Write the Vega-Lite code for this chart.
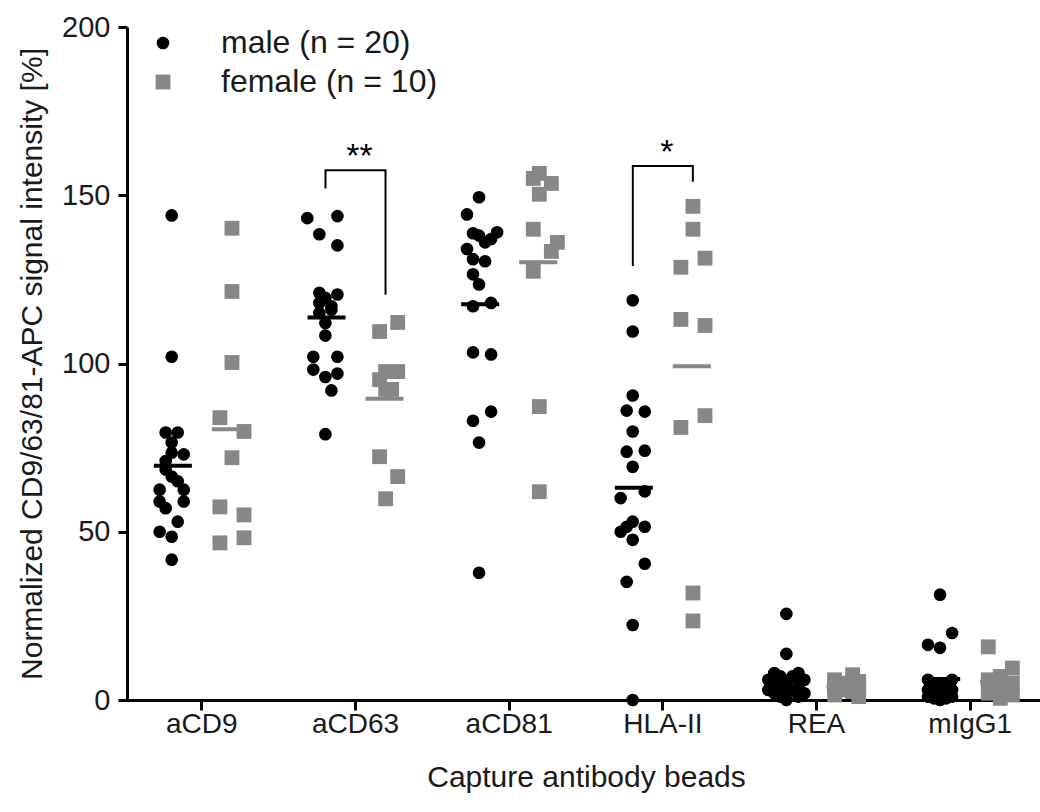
{
  "$schema": "https://vega.github.io/schema/vega-lite/v6.json",
  "width": 913,
  "height": 673,
  "autosize": "none",
  "padding": {"left": 127, "top": 27, "right": 0, "bottom": 112},
  "background": "white",
  "config": {
    "view": {"stroke": null},
    "font": "Liberation Sans",
    "axis": {
      "grid": false,
      "domainColor": "#000000",
      "domainWidth": 3,
      "tickColor": "#000000",
      "tickWidth": 3,
      "tickSize": 9,
      "labelFont": "Liberation Sans",
      "labelFontSize": 28,
      "labelColor": "#1a1a1a",
      "titleFont": "Liberation Sans",
      "titleFontSize": 30,
      "titleFontWeight": "normal",
      "titleColor": "#1a1a1a"
    },
    "legend": {
      "orient": "none",
      "legendX": 20,
      "legendY": 0,
      "padding": 0,
      "labelFont": "Liberation Sans",
      "labelFontSize": 32,
      "labelColor": "#1a1a1a",
      "labelOffset": 42,
      "labelLimit": 500,
      "rowPadding": 7
    }
  },
  "datasets": {
    "pts": [
      {"g":"aCD9","sex":"male","slot":"m0","v":144},
      {"g":"aCD9","sex":"male","slot":"m0","v":102},
      {"g":"aCD9","sex":"male","slot":"m-1","v":79.5},
      {"g":"aCD9","sex":"male","slot":"m1","v":79.5},
      {"g":"aCD9","sex":"male","slot":"m0","v":76.5},
      {"g":"aCD9","sex":"male","slot":"m0","v":73.5},
      {"g":"aCD9","sex":"male","slot":"m2","v":73},
      {"g":"aCD9","sex":"male","slot":"m-1","v":71},
      {"g":"aCD9","sex":"male","slot":"m-1","v":68.5},
      {"g":"aCD9","sex":"male","slot":"m0","v":66.4},
      {"g":"aCD9","sex":"male","slot":"m1","v":65},
      {"g":"aCD9","sex":"male","slot":"m-2","v":62.5},
      {"g":"aCD9","sex":"male","slot":"m2","v":62.5},
      {"g":"aCD9","sex":"male","slot":"m-2","v":59},
      {"g":"aCD9","sex":"male","slot":"m2","v":59},
      {"g":"aCD9","sex":"male","slot":"m-1","v":57},
      {"g":"aCD9","sex":"male","slot":"m1","v":53},
      {"g":"aCD9","sex":"male","slot":"m-2","v":50},
      {"g":"aCD9","sex":"male","slot":"m0","v":48.5},
      {"g":"aCD9","sex":"male","slot":"m0","v":41.7},
      {"g":"aCD9","sex":"female","slot":"f0","v":140.2},
      {"g":"aCD9","sex":"female","slot":"f0","v":121.4},
      {"g":"aCD9","sex":"female","slot":"f0","v":100.3},
      {"g":"aCD9","sex":"female","slot":"f-2","v":83.9},
      {"g":"aCD9","sex":"female","slot":"f2","v":79.8},
      {"g":"aCD9","sex":"female","slot":"f0","v":72},
      {"g":"aCD9","sex":"female","slot":"f-2","v":57.4},
      {"g":"aCD9","sex":"female","slot":"f2","v":55},
      {"g":"aCD9","sex":"female","slot":"f2","v":48.2},
      {"g":"aCD9","sex":"female","slot":"f-2","v":46.7},
      {"g":"aCD63","sex":"male","slot":"m-3","v":143.2},
      {"g":"aCD63","sex":"male","slot":"m2","v":143.8},
      {"g":"aCD63","sex":"male","slot":"m-1","v":138.4},
      {"g":"aCD63","sex":"male","slot":"m2","v":135.1},
      {"g":"aCD63","sex":"male","slot":"m-1","v":121},
      {"g":"aCD63","sex":"male","slot":"m2","v":120.5},
      {"g":"aCD63","sex":"male","slot":"m0","v":119.5},
      {"g":"aCD63","sex":"male","slot":"m-1","v":118},
      {"g":"aCD63","sex":"male","slot":"m1","v":117},
      {"g":"aCD63","sex":"male","slot":"m1","v":116},
      {"g":"aCD63","sex":"male","slot":"m-1","v":115},
      {"g":"aCD63","sex":"male","slot":"m0","v":112},
      {"g":"aCD63","sex":"male","slot":"m0","v":108.3},
      {"g":"aCD63","sex":"male","slot":"m-2","v":102},
      {"g":"aCD63","sex":"male","slot":"m2","v":102},
      {"g":"aCD63","sex":"male","slot":"m-2","v":98.2},
      {"g":"aCD63","sex":"male","slot":"m2","v":97},
      {"g":"aCD63","sex":"male","slot":"m0","v":96},
      {"g":"aCD63","sex":"male","slot":"m1","v":92},
      {"g":"aCD63","sex":"male","slot":"m0","v":79},
      {"g":"aCD63","sex":"female","slot":"f2","v":112.2},
      {"g":"aCD63","sex":"female","slot":"f-1","v":109.5},
      {"g":"aCD63","sex":"female","slot":"f0","v":97.6},
      {"g":"aCD63","sex":"female","slot":"f2","v":97.6},
      {"g":"aCD63","sex":"female","slot":"f-1","v":95.2},
      {"g":"aCD63","sex":"female","slot":"f0","v":92.3},
      {"g":"aCD63","sex":"female","slot":"f1","v":92.3},
      {"g":"aCD63","sex":"female","slot":"f-1","v":72.3},
      {"g":"aCD63","sex":"female","slot":"f2","v":66.4},
      {"g":"aCD63","sex":"female","slot":"f0","v":59.8},
      {"g":"aCD81","sex":"male","slot":"m0","v":149.4},
      {"g":"aCD81","sex":"male","slot":"m-2","v":144.3},
      {"g":"aCD81","sex":"male","slot":"m3","v":139},
      {"g":"aCD81","sex":"male","slot":"m-1","v":138.7},
      {"g":"aCD81","sex":"male","slot":"m0","v":138},
      {"g":"aCD81","sex":"male","slot":"m2","v":137},
      {"g":"aCD81","sex":"male","slot":"m1","v":136},
      {"g":"aCD81","sex":"male","slot":"m-2","v":134},
      {"g":"aCD81","sex":"male","slot":"m-1","v":131},
      {"g":"aCD81","sex":"male","slot":"m1","v":130.4},
      {"g":"aCD81","sex":"male","slot":"m-1","v":126.5},
      {"g":"aCD81","sex":"male","slot":"m0","v":123.5},
      {"g":"aCD81","sex":"male","slot":"m2","v":118},
      {"g":"aCD81","sex":"male","slot":"m-1","v":117},
      {"g":"aCD81","sex":"male","slot":"m-1","v":103.3},
      {"g":"aCD81","sex":"male","slot":"m2","v":102.7},
      {"g":"aCD81","sex":"male","slot":"m2","v":85.7},
      {"g":"aCD81","sex":"male","slot":"m-1","v":83},
      {"g":"aCD81","sex":"male","slot":"m0","v":76.5},
      {"g":"aCD81","sex":"male","slot":"m0","v":37.8},
      {"g":"aCD81","sex":"female","slot":"f0","v":156.5},
      {"g":"aCD81","sex":"female","slot":"f-1","v":155},
      {"g":"aCD81","sex":"female","slot":"f2","v":153.5},
      {"g":"aCD81","sex":"female","slot":"f0","v":150.3},
      {"g":"aCD81","sex":"female","slot":"f-1","v":139.9},
      {"g":"aCD81","sex":"female","slot":"f3","v":136},
      {"g":"aCD81","sex":"female","slot":"f2","v":133.3},
      {"g":"aCD81","sex":"female","slot":"f-1","v":127.4},
      {"g":"aCD81","sex":"female","slot":"f0","v":87.2},
      {"g":"aCD81","sex":"female","slot":"f0","v":61.9},
      {"g":"HLA-II","sex":"male","slot":"m0","v":118.8},
      {"g":"HLA-II","sex":"male","slot":"m0","v":109.5},
      {"g":"HLA-II","sex":"male","slot":"m0","v":90.5},
      {"g":"HLA-II","sex":"male","slot":"m-1","v":86},
      {"g":"HLA-II","sex":"male","slot":"m2","v":85.7},
      {"g":"HLA-II","sex":"male","slot":"m0","v":79.8},
      {"g":"HLA-II","sex":"male","slot":"m2","v":74.1},
      {"g":"HLA-II","sex":"male","slot":"m-1","v":73.8},
      {"g":"HLA-II","sex":"male","slot":"m0","v":69.3},
      {"g":"HLA-II","sex":"male","slot":"m2","v":62},
      {"g":"HLA-II","sex":"male","slot":"m-2","v":60},
      {"g":"HLA-II","sex":"male","slot":"m0","v":53},
      {"g":"HLA-II","sex":"male","slot":"m-1","v":51.5},
      {"g":"HLA-II","sex":"male","slot":"m2","v":51.5},
      {"g":"HLA-II","sex":"male","slot":"m-2","v":50},
      {"g":"HLA-II","sex":"male","slot":"m0","v":47.6},
      {"g":"HLA-II","sex":"male","slot":"m2","v":40.5},
      {"g":"HLA-II","sex":"male","slot":"m-1","v":35.1},
      {"g":"HLA-II","sex":"male","slot":"m0","v":22.3},
      {"g":"HLA-II","sex":"male","slot":"m0","v":0},
      {"g":"HLA-II","sex":"female","slot":"f0","v":146.7},
      {"g":"HLA-II","sex":"female","slot":"f0","v":139.9},
      {"g":"HLA-II","sex":"female","slot":"f2","v":131.3},
      {"g":"HLA-II","sex":"female","slot":"f-2","v":128.6},
      {"g":"HLA-II","sex":"female","slot":"f-2","v":113.1},
      {"g":"HLA-II","sex":"female","slot":"f2","v":111.3},
      {"g":"HLA-II","sex":"female","slot":"f2","v":84.5},
      {"g":"HLA-II","sex":"female","slot":"f-2","v":81},
      {"g":"HLA-II","sex":"female","slot":"f0","v":31.8},
      {"g":"HLA-II","sex":"female","slot":"f0","v":23.5},
      {"g":"REA","sex":"male","slot":"m0","v":25.6},
      {"g":"REA","sex":"male","slot":"m0","v":13.7},
      {"g":"REA","sex":"male","slot":"m-2","v":8},
      {"g":"REA","sex":"male","slot":"m2","v":8},
      {"g":"REA","sex":"male","slot":"m-1","v":7},
      {"g":"REA","sex":"male","slot":"m1","v":7},
      {"g":"REA","sex":"male","slot":"m-3","v":6},
      {"g":"REA","sex":"male","slot":"m3","v":6},
      {"g":"REA","sex":"male","slot":"m0","v":5},
      {"g":"REA","sex":"male","slot":"m-2","v":5},
      {"g":"REA","sex":"male","slot":"m2","v":4},
      {"g":"REA","sex":"male","slot":"m-1","v":4},
      {"g":"REA","sex":"male","slot":"m1","v":3},
      {"g":"REA","sex":"male","slot":"m-3","v":3},
      {"g":"REA","sex":"male","slot":"m3","v":2},
      {"g":"REA","sex":"male","slot":"m0","v":2},
      {"g":"REA","sex":"male","slot":"m-2","v":2},
      {"g":"REA","sex":"male","slot":"m2","v":1},
      {"g":"REA","sex":"male","slot":"m-1","v":1},
      {"g":"REA","sex":"male","slot":"m0","v":0},
      {"g":"REA","sex":"female","slot":"f1","v":7.5},
      {"g":"REA","sex":"female","slot":"f-2","v":6},
      {"g":"REA","sex":"female","slot":"f2","v":5.5},
      {"g":"REA","sex":"female","slot":"f0","v":5},
      {"g":"REA","sex":"female","slot":"f-2","v":4},
      {"g":"REA","sex":"female","slot":"f2","v":3.5},
      {"g":"REA","sex":"female","slot":"f-1","v":3},
      {"g":"REA","sex":"female","slot":"f1","v":2.5},
      {"g":"REA","sex":"female","slot":"f-2","v":1.5},
      {"g":"REA","sex":"female","slot":"f2","v":1},
      {"g":"mIgG1","sex":"male","slot":"m0","v":31.3},
      {"g":"mIgG1","sex":"male","slot":"m2","v":19.9},
      {"g":"mIgG1","sex":"male","slot":"m-2","v":16.4},
      {"g":"mIgG1","sex":"male","slot":"m0","v":15.5},
      {"g":"mIgG1","sex":"male","slot":"m-2","v":6},
      {"g":"mIgG1","sex":"male","slot":"m2","v":6},
      {"g":"mIgG1","sex":"male","slot":"m0","v":5},
      {"g":"mIgG1","sex":"male","slot":"m-1","v":4},
      {"g":"mIgG1","sex":"male","slot":"m1","v":4},
      {"g":"mIgG1","sex":"male","slot":"m-2","v":3},
      {"g":"mIgG1","sex":"male","slot":"m2","v":3},
      {"g":"mIgG1","sex":"male","slot":"m0","v":3},
      {"g":"mIgG1","sex":"male","slot":"m-1","v":2},
      {"g":"mIgG1","sex":"male","slot":"m1","v":2},
      {"g":"mIgG1","sex":"male","slot":"m-2","v":1},
      {"g":"mIgG1","sex":"male","slot":"m2","v":1},
      {"g":"mIgG1","sex":"male","slot":"m0","v":1},
      {"g":"mIgG1","sex":"male","slot":"m-1","v":0.5},
      {"g":"mIgG1","sex":"male","slot":"m1","v":0.5},
      {"g":"mIgG1","sex":"male","slot":"m0","v":0},
      {"g":"mIgG1","sex":"female","slot":"f-2","v":15.8},
      {"g":"mIgG1","sex":"female","slot":"f2","v":9.5},
      {"g":"mIgG1","sex":"female","slot":"f0","v":7},
      {"g":"mIgG1","sex":"female","slot":"f-2","v":6},
      {"g":"mIgG1","sex":"female","slot":"f2","v":5},
      {"g":"mIgG1","sex":"female","slot":"f-1","v":4},
      {"g":"mIgG1","sex":"female","slot":"f1","v":3},
      {"g":"mIgG1","sex":"female","slot":"f-2","v":2},
      {"g":"mIgG1","sex":"female","slot":"f2","v":1.5},
      {"g":"mIgG1","sex":"female","slot":"f0","v":0.5}
    ],
    "brackets": [
      {"br":"b1","g":"aCD63","sex":"male","o":1,"v":152},
      {"br":"b1","g":"aCD63","sex":"male","o":2,"v":157.4},
      {"br":"b1","g":"aCD63","sex":"female","o":3,"v":157.4},
      {"br":"b1","g":"aCD63","sex":"female","o":4,"v":120.4},
      {"br":"b2","g":"HLA-II","sex":"male","o":1,"v":129},
      {"br":"b2","g":"HLA-II","sex":"male","o":2,"v":158.7},
      {"br":"b2","g":"HLA-II","sex":"female","o":3,"v":158.7},
      {"br":"b2","g":"HLA-II","sex":"female","o":4,"v":154}
    ],
    "stars": [
      {"g":"aCD63","lab":"**","v":157.4},
      {"g":"HLA-II","lab":"*","v":158.7}
    ]
  },
  "resolve": {"scale": {"xOffset": "independent"}},
  "layer": [
    {
      "data": {"name": "brackets"},
      "mark": {"type": "line", "color": "#000000", "strokeWidth": 2, "interpolate": "linear"},
      "encoding": {
        "x": {"field": "g", "type": "nominal", "sort": ["aCD9","aCD63","aCD81","HLA-II","REA","mIgG1"], "scale": {"domain": ["aCD9","aCD63","aCD81","HLA-II","REA","mIgG1"], "range": [-2, 920], "paddingInner": 0, "paddingOuter": 0}},
        "xOffset": {"field": "sex", "type": "nominal", "scale": {"type": "point", "domain": ["male","female"], "padding": 0.78}},
        "y": {"field": "v", "type": "quantitative"},
        "detail": {"field": "br"},
        "order": {"field": "o", "type": "quantitative"}
      }
    },
    {
      "data": {"name": "stars"},
      "mark": {"type": "text", "fontSize": 34, "font": "Liberation Sans", "color": "#000000", "baseline": "alphabetic", "align": "center", "dx": 4, "dy": -3},
      "encoding": {
        "x": {"field": "g", "type": "nominal"},
        "y": {"field": "v", "type": "quantitative"},
        "text": {"field": "lab"}
      }
    },
    {
      "data": {"name": "pts"},
      "mark": {"type": "point", "filled": true, "opacity": 1, "strokeWidth": 0},
      "encoding": {
        "x": {
          "field": "g", "type": "nominal",
          "axis": {"title": "Capture antibody beads", "labelAngle": 0, "labelAlign": "center", "bandPosition": 0.5, "labelPadding": 14, "titlePadding": 24, "tickSize": 10}
        },
        "xOffset": {"field": "slot", "type": "nominal", "scale": {"domain": ["e1","e2","e3","e4","m-3","m-2","m-1","m0","m1","m2","m3","s1","s2","s3","f-3","f-2","f-1","f0","f1","f2","f3","e5","e6","e7","e8"], "paddingInner": 0, "paddingOuter": 0.75}},
        "y": {
          "field": "v", "type": "quantitative",
          "scale": {"domain": [0, 200], "nice": false, "zero": true},
          "axis": {"title": "Normalized CD9/63/81-APC signal intensity [%]", "values": [0, 50, 100, 150, 200], "labelFontSize": 29, "labelPadding": 8, "titlePadding": 14}
        },
        "color": {
          "field": "sex", "type": "nominal",
          "scale": {"domain": ["male","female"], "range": ["#000000","#878787"]},
          "legend": {"title": null, "labelExpr": "datum.label == 'male' ? 'male (n = 20)' : 'female (n = 10)'"}
        },
        "shape": {
          "field": "sex", "type": "nominal",
          "scale": {"domain": ["male","female"], "range": ["circle","square"]},
          "legend": {"title": null, "labelExpr": "datum.label == 'male' ? 'male (n = 20)' : 'female (n = 10)'"}
        },
        "size": {
          "field": "sex", "type": "nominal",
          "scale": {"domain": ["male","female"], "range": [160, 220]},
          "legend": {"title": null, "labelExpr": "datum.label == 'male' ? 'male (n = 20)' : 'female (n = 10)'"}
        }
      }
    },
    {
      "data": {"name": "pts"},
      "transform": [
        {"filter": "datum.sex == 'male'"},
        {"aggregate": [{"op": "mean", "field": "v", "as": "mv"}], "groupby": ["g", "sex"]}
      ],
      "mark": {"type": "tick", "color": "#000000", "size": 38, "thickness": 4, "opacity": 1},
      "encoding": {
        "x": {"field": "g", "type": "nominal"},
        "xOffset": {"field": "sex", "type": "nominal", "scale": {"domain": ["male","female"], "paddingInner": 0, "paddingOuter": 0.325}},
        "y": {"field": "mv", "type": "quantitative"}
      }
    },
    {
      "data": {"name": "pts"},
      "transform": [
        {"filter": "datum.sex == 'female'"},
        {"aggregate": [{"op": "mean", "field": "v", "as": "mv"}], "groupby": ["g", "sex"]}
      ],
      "mark": {"type": "tick", "color": "#878787", "size": 38, "thickness": 4, "opacity": 1},
      "encoding": {
        "x": {"field": "g", "type": "nominal"},
        "xOffset": {"field": "sex", "type": "nominal", "scale": {"domain": ["male","female"], "paddingInner": 0, "paddingOuter": 0.325}},
        "y": {"field": "mv", "type": "quantitative"}
      }
    }
  ]
}
